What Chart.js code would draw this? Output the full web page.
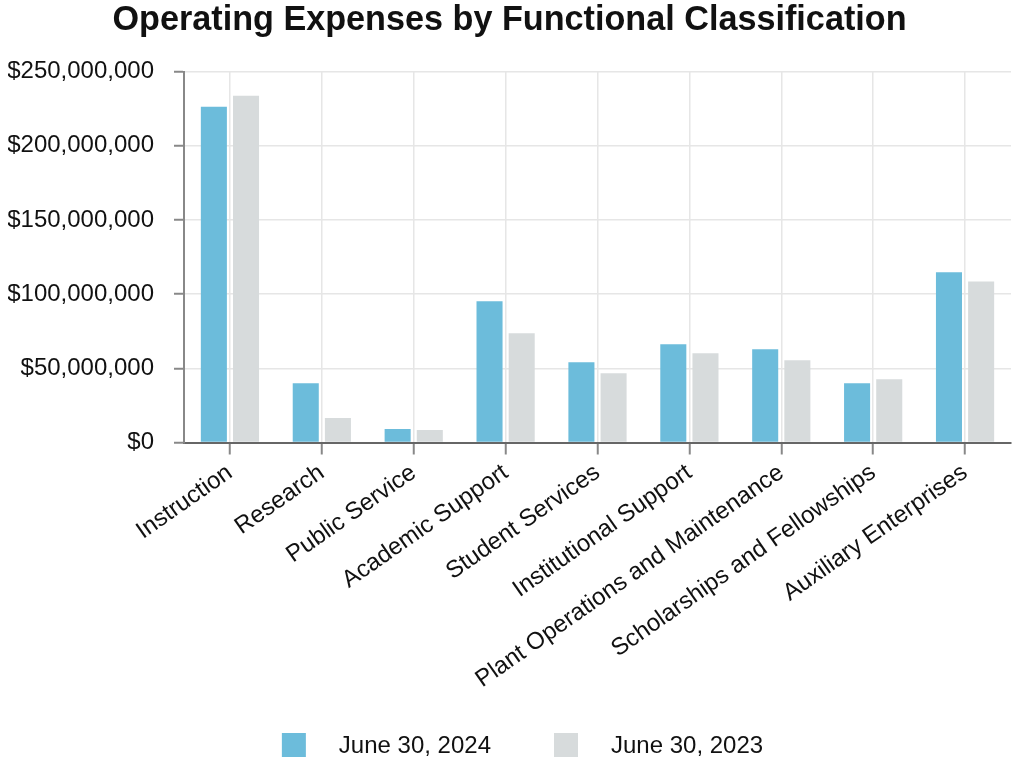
<!DOCTYPE html>
<html>
<head>
<meta charset="utf-8">
<script src="https://cdn.jsdelivr.net/npm/chart.js@4/dist/chart.umd.min.js"></script>
<style>
  html, body { margin: 0; padding: 0; background: #ffffff; }
  #wrap { width: 1013px; height: 762px; position: relative; }
</style>
</head>
<body>
<div id="wrap"><canvas id="c" width="1013" height="762"></canvas></div>
<script>
const categories = [
  "Instruction", "Research", "Public Service", "Academic Support",
  "Student Services", "Institutional Support", "Plant Operations and Maintenance",
  "Scholarships and Fellowships", "Auxiliary Enterprises"
];
const june2024 = [226300000, 40000000, 9100000, 95200000, 54100000, 66200000, 62900000, 40000000, 114700000];
const june2023 = [233700000, 16500000, 8400000, 73600000, 46700000, 60200000, 55500000, 42700000, 108600000];
const seriesLabels = ["June 30, 2024", "June 30, 2023"];
const yTicks = [0, 50000000, 100000000, 150000000, 200000000, 250000000];

const FONT = "'Liberation Sans', Arial, Helvetica, sans-serif";
const BLUE = "#6cbcdb";
const GRAY = "#d7dbdc";

const customLegend = {
  id: 'customLegend',
  afterDraw(chart) {
    const ctx = chart.ctx;
    ctx.save();
    ctx.font = "24px " + FONT;
    const box = 24, gapText = 33, gapItem = 63;
    const items = chart.data.datasets.map(d => ({ text: d.label, color: d.backgroundColor, w: ctx.measureText(d.label).width }));
    let total = 0;
    items.forEach((it, i) => { total += box + gapText + it.w + (i < items.length - 1 ? gapItem : 0); });
    let x = (chart.width - total) / 2 + 16;
    const yTop = 733;
    items.forEach(it => {
      ctx.fillStyle = it.color;
      ctx.fillRect(x, yTop, box, box);
      ctx.fillStyle = "#111111";
      ctx.textBaseline = "middle";
      ctx.textAlign = "left";
      ctx.fillText(it.text, x + box + gapText, yTop + box / 2 + 1);
      x += box + gapText + it.w + gapItem;
    });
    ctx.restore();
  }
};

new Chart(document.getElementById('c'), {
  type: 'bar',
  data: {
    labels: categories,
    datasets: [
      { label: seriesLabels[0], data: june2024, backgroundColor: BLUE, categoryPercentage: 0.7, barPercentage: 0.81 },
      { label: seriesLabels[1], data: june2023, backgroundColor: GRAY, categoryPercentage: 0.7, barPercentage: 0.81 }
    ]
  },
  options: {
    responsive: false,
    animation: false,
    devicePixelRatio: 1,
    layout: { padding: { left: 8, right: 2, top: 0, bottom: 60 } },
    plugins: {
      legend: { display: false },
      tooltip: { enabled: false },
      title: {
        display: true,
        text: "Operating Expenses by Functional Classification",
        color: "#111111",
        font: { family: FONT, size: 34.2, weight: 'bold', lineHeight: 1 },
        padding: { top: 3, bottom: 34.4 }
      }
    },
    scales: {
      x: {
        grid: {
          offset: false,
          color: "#e6e6e6",
          lineWidth: 1.5,
          tickLength: 12,
          tickColor: "#888888",
          tickWidth: 2,
          drawOnChartArea: true
        },
        border: { color: "#666666", width: 2 },
        ticks: {
          color: "#111111",
          font: { family: FONT, size: 24 },
          minRotation: 35,
          maxRotation: 35,
          autoSkip: false,
          padding: 4
        },
        afterFit(scale) { scale.height = 762 - 60 - 442.5; }
      },
      y: {
        min: 0,
        max: 250000000,
        afterBuildTicks(scale) { scale.ticks = yTicks.map(v => ({ value: v })); },
        grid: {
          color: "#e6e6e6",
          lineWidth: 1.5,
          tickLength: 10,
          tickColor: "#888888",
          tickWidth: 2
        },
        border: { color: "#888888", width: 2 },
        ticks: {
          color: "#111111",
          font: { family: FONT, size: 24 },
          padding: 20,
          callback: v => "$" + Number(v).toLocaleString('en-US')
        },
        afterFit(scale) { scale.width = 176; }
      }
    }
  },
  plugins: [customLegend]
});
</script>
</body>
</html>
